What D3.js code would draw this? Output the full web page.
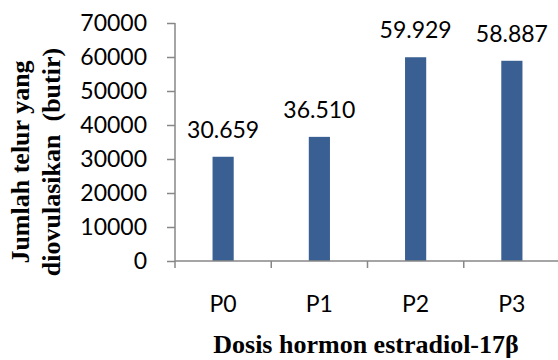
<!DOCTYPE html>
<html>
<head>
<meta charset="utf-8">
<script src="https://cdn.jsdelivr.net/npm/d3@7"></script>
<style>
  html, body { margin: 0; padding: 0; background: #fff; }
  svg { display: block; }
</style>
</head>
<body>
<svg id="chart" width="558" height="360"></svg>
<script>
// Egg counts per estradiol-17β dose group
const categories = ["P0", "P1", "P2", "P3"];
const values = [30659, 36510, 59929, 58887];
const valueLabels = ["30.659", "36.510", "59.929", "58.887"];
const yTicks = [0, 10000, 20000, 30000, 40000, 50000, 60000, 70000];

const svg = d3.select("#chart");
const axisColor = "#878787";
const barColor = "#3a5f93";
const sansFont = "Lato, 'Open Sans', sans-serif";
const serifFont = "'Liberation Serif', 'Times New Roman', serif";

const x = d3.scaleBand().domain(categories).range([175, 560]).paddingInner(0.78).paddingOuter(0.39);
const y = d3.scaleLinear().domain([0, 70000]).range([261, 23]);

// Y axis
const yAxis = svg.append("g").attr("transform", "translate(175,0)")
  .call(d3.axisLeft(y).tickValues(yTicks).tickSize(8).tickPadding(20).tickFormat(d3.format("d")));
yAxis.select(".domain").attr("stroke", axisColor).attr("stroke-width", 1.5).attr("d", "M0,23V261");
yAxis.selectAll(".tick line").attr("stroke", axisColor).attr("stroke-width", 1.5);
yAxis.selectAll(".tick text").attr("font-family", sansFont).attr("font-size", 23).attr("fill", "#000");

// Bars
svg.append("g").selectAll("rect").data(values).join("rect")
  .attr("x", (d, i) => x(categories[i]))
  .attr("width", x.bandwidth())
  .attr("y", d => y(d))
  .attr("height", d => y(0) - y(d))
  .attr("fill", barColor);

// X axis
const step = x.step();
const xAxis = svg.append("g").attr("transform", "translate(0,261)");
xAxis.append("line").attr("x1", 175).attr("x2", 558).attr("y1", 0).attr("y2", 0)
  .attr("stroke", axisColor).attr("stroke-width", 1.5);
xAxis.selectAll("line.tk").data(d3.range(categories.length)).join("line")
  .attr("class", "tk")
  .attr("x1", i => 175 + i * step).attr("x2", i => 175 + i * step)
  .attr("y1", 0).attr("y2", 7)
  .attr("stroke", axisColor).attr("stroke-width", 1.5);
xAxis.selectAll("text").data(categories).join("text")
  .attr("x", d => x(d) + x.bandwidth() / 2)
  .attr("y", 51)
  .attr("text-anchor", "middle")
  .attr("font-family", sansFont).attr("font-size", 23).attr("fill", "#000")
  .text(d => d);

// Value labels above bars
svg.append("g").selectAll("text").data(values).join("text")
  .attr("x", (d, i) => x(categories[i]) + x.bandwidth() / 2)
  .attr("y", d => y(d) - 19)
  .attr("text-anchor", "middle")
  .attr("font-family", sansFont).attr("font-size", 23).attr("fill", "#000")
  .text((d, i) => valueLabels[i]);

// Axis titles
svg.append("text")
  .attr("x", 366).attr("y", 353)
  .attr("text-anchor", "middle")
  .attr("font-family", serifFont).attr("font-size", 26).attr("font-weight", "bold")
  .text("Dosis hormon estradiol-17β");

const yTitle = svg.append("text")
  .attr("transform", "translate(0,162) rotate(-90)")
  .attr("text-anchor", "middle")
  .attr("font-family", serifFont).attr("font-size", 26).attr("font-weight", "bold")
  .attr("xml:space", "preserve").style("white-space", "pre");
yTitle.append("tspan").attr("x", 0).attr("y", 29).text("Jumlah telur yang");
yTitle.append("tspan").attr("x", 0).attr("y", 60).text("diovulasikan  (butir)");
</script>
</body>
</html>
